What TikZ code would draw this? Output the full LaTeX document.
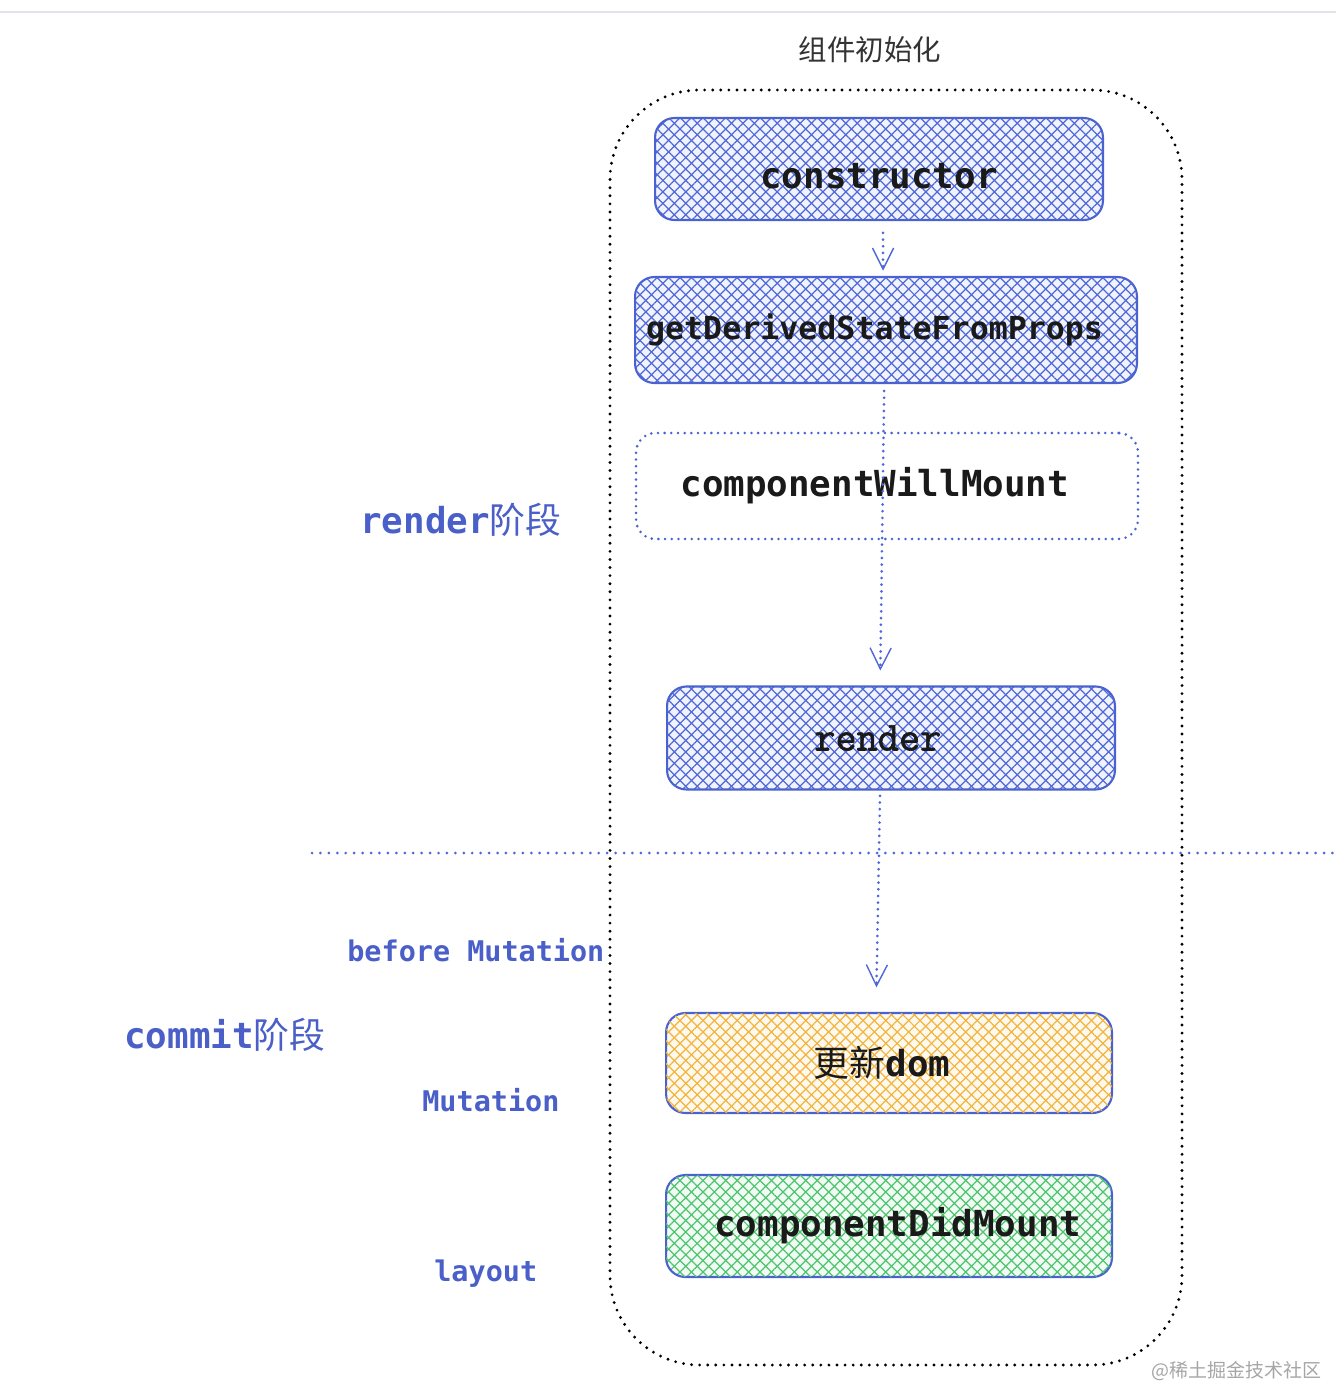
\documentclass[tikz,border=0pt]{standalone}
\usepackage{fontspec}
\setmainfont{DejaVu Sans}
\newfontfamily\monofont{DejaVu Sans Mono}
\newfontfamily\courfont{Latin Modern Mono}[FakeBold=1.6]
\newfontfamily\cjk{Noto Sans CJK SC}
\usetikzlibrary{patterns.meta,arrows.meta}
\definecolor{hblue}{HTML}{4F68D9}
\definecolor{lblue}{HTML}{4A5FC8}
\definecolor{hyellow}{HTML}{F2B43A}
\definecolor{hgreen}{HTML}{4CC46E}
\definecolor{bord}{HTML}{4A62CF}
\definecolor{topline}{HTML}{E2E2E8}
\definecolor{txt}{HTML}{1A1A1A}
\tikzset{
  hatchbox/.style={draw=bord, line width=1.2pt, rounded corners=11pt, inner sep=0pt,
    text=txt, font=\monofont\bfseries\fontsize{20.4}{24}\selectfont,
    preaction={fill=#1!8},
    pattern={Lines[angle=45,distance=4.6pt,line width=0.7pt]}, pattern color=#1,
    postaction={pattern={Lines[angle=-45,distance=4.6pt,line width=0.7pt]}, pattern color=#1}},
  dotbox/.style={draw=bord, line width=1.6pt, rounded corners=11pt, inner sep=0pt,
    dash pattern=on 0pt off 3.8pt, line cap=round,
    text=txt, font=\monofont\bfseries\fontsize{20.4}{24}\selectfont},
  outerbox/.style={draw=black, line width=1.8pt, dash pattern=on 0pt off 4.6pt, line cap=round},
  sepline/.style={draw=hblue, line width=1.7pt, dash pattern=on 0pt off 4.8pt, line cap=round},
  arr/.style={draw=hblue, line width=1.7pt, dash pattern=on 0pt off 3.8pt, line cap=round,
    -{Straight Barb[length=12pt,width=12pt,line width=0.8pt]}},
  biglabel/.style={anchor=west, inner sep=0pt, text=lblue, font=\monofont\bfseries\fontsize{20.4}{24}\selectfont},
  smalllabel/.style={anchor=west, inner sep=0pt, text=lblue, font=\monofont\bfseries\fontsize{16.2}{20}\selectfont},
}
\begin{document}
\begin{tikzpicture}[x=0.02cm, y=-0.02cm]
\useasboundingbox[fill=white] (0,0) rectangle (1336,1392);
\draw[topline, line width=1.1pt] (0,12) -- (1336,12);

\node[inner sep=0pt, text=black!80, font=\cjk\fontsize{16.2}{20}\selectfont] (title) at (870,50) {组件初始化};

\path[outerbox, rounded corners=51pt] (610,90) rectangle (1182,1365);

\draw[sepline] (312,853) -- (1336,853);

\node[hatchbox=hblue, minimum width=8.96cm, minimum height=2.04cm, text height=22pt, text depth=0pt] (constructor) at (879,169) {constructor};
\node[hatchbox=hblue, minimum width=10.04cm, minimum height=2.12cm, font=\monofont\bfseries\fontsize{18}{22}\selectfont] (gdsfp) at (886,330) {getDerivedStateFromProps\kern13pt};
\node[dotbox, minimum width=10.04cm, minimum height=2.12cm] (cwm) at (887,486) {componentWillMount\kern14pt};
\node[hatchbox=hblue, minimum width=8.96cm, minimum height=2.06cm, font=\courfont\fontsize{23.4}{26}\selectfont] (render) at (891,738) {render\kern15pt};
\node[hatchbox=hyellow, minimum width=8.92cm, minimum height=2.0cm] (dom) at (889,1063) {{\cjk\mdseries 更新}dom\kern8pt};
\node[hatchbox=hgreen, minimum width=8.92cm, minimum height=2.04cm] (cdm) at (889,1226) {\kern10pt componentDidMount};

\draw[arr, shorten <=7pt, shorten >=3pt] ([xshift=2.3pt]constructor.south) -- ([xshift=2.3pt]constructor.south |- gdsfp.north);
\draw[arr, shorten <=4pt, shorten >=8.5pt] ([xshift=-1pt]gdsfp.south) -- ([xshift=-6.2pt]render.north);
\draw[arr, shorten <=3pt, shorten >=14pt] ([xshift=-6.2pt]render.south) -- ([xshift=-7.4pt]dom.north);

\node[biglabel] (lrender) at (360,520) {render{\cjk\mdseries 阶段}};
\node[biglabel] (lcommit) at (124,1035) {commit{\cjk\mdseries 阶段}};
\node[smalllabel] (lbefore) at (347,950) {before Mutation};
\node[smalllabel] (lmut) at (422,1100) {Mutation};
\node[smalllabel] (llayout) at (434,1274) {layout};

\node[anchor=east, inner sep=0pt, text=black!35, font=\cjk\fontsize{10.8}{13}\selectfont] (wm) at (1322,1371) {@稀土掘金技术社区};
\end{tikzpicture}
\end{document}
